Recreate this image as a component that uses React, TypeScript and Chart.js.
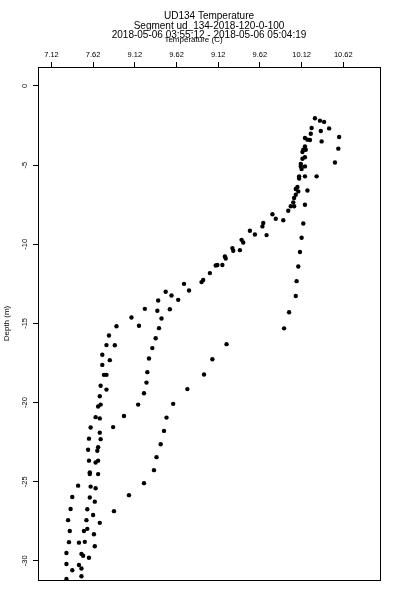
import React, { useEffect, useRef } from "react";
import { Chart, registerables } from "chart.js";

Chart.register(...registerables);

const FONT = '"Liberation Sans", Arial, Helvetica, sans-serif';

const titleLines = [
  "UD134 Temperature",
  "Segment ud_134-2018-120-0-100",
  "2018-05-06 03:55:12 - 2018-05-06 05:04:19",
];
const xAxisTitle = "Temperature (C)";
const yAxisTitle = "Depth (m)";

const xTickValues = [7.12, 7.62, 8.12, 8.62, 9.12, 9.62, 10.12, 10.62];
const xTickLabels = ["7.12", "7.62", "9.12", "9.62", "9.12", "9.62", "10.12", "10.62"];
const yTickValues = [0, -5, -10, -15, -20, -25, -30];

const temperature = [
  10.28, 10.34, 10.39, 10.45, 10.24, 10.35, 10.23, 10.57, 10.16, 10.19,
  10.22, 10.36, 10.16, 10.56, 10.14, 10.17, 10.13, 10.16, 10.13, 10.52,
  10.11, 10.16, 10.11, 10.12, 10.09, 10.16, 10.30, 10.09, 10.07, 10.05,
  10.08, 10.19, 10.05, 10.03, 10.02, 10.16, 9.99, 10.03, 9.96, 9.77,
  9.81, 9.90, 10.14, 10.12, 10.10, 10.08, 10.06, 10.05, 9.97, 9.91,
  9.66, 9.65, 9.70, 9.50, 9.56, 9.40, 9.42, 9.29, 9.30, 9.38,
  9.20, 9.21, 9.09, 9.11, 9.17, 9.02, 8.94, 8.92, 8.71, 8.77,
  8.64, 8.49, 8.56, 8.40, 8.24, 8.39, 8.54, 8.08, 8.44, 8.17,
  7.90, 8.41, 7.81, 8.37, 7.78, 7.88, 8.33, 7.73, 7.82, 8.29,
  7.73, 7.75, 7.78, 8.27, 8.26, 7.71, 7.78, 8.23, 7.70, 7.68,
  7.71, 8.16, 7.65, 7.70, 7.99, 7.59, 7.86, 7.70, 7.57, 7.71,
  7.56, 7.68, 7.67, 7.57, 7.65, 7.68, 7.58, 7.58, 7.68, 8.23,
  7.44, 7.59, 7.65, 8.05, 7.37, 7.58, 7.64, 7.35, 7.55, 7.87,
  7.62, 7.32, 7.54, 7.70, 7.34, 7.51, 7.55, 7.63, 7.33, 7.45,
  7.52, 7.64, 7.30, 7.48, 7.50, 7.57, 7.30, 7.45, 7.48, 7.37,
  7.48, 7.30, 9.22, 9.05, 8.95, 8.75, 8.58, 8.50, 8.47, 8.43,
  8.38, 8.35,
];

const depth = [
  -2.04, -2.19, -2.27, -2.68, -2.65, -2.84, -3.02, -3.22, -3.29, -3.39,
  -3.41, -3.50, -3.82, -3.96, -4.03, -4.03, -4.17, -4.50, -4.60, -4.83,
  -4.93, -5.08, -5.08, -5.25, -5.71, -5.71, -5.71, -5.84, -6.38, -6.51,
  -6.66, -6.60, -6.87, -7.08, -7.35, -7.50, -7.60, -7.60, -7.88, -8.10,
  -8.39, -8.48, -8.69, -9.59, -10.49, -11.40, -12.33, -13.27, -14.29, -15.31,
  -8.66, -8.87, -9.42, -9.15, -9.38, -9.72, -9.89, -10.24, -10.41, -10.37,
  -10.77, -10.90, -11.34, -11.31, -11.31, -11.82, -12.26, -12.39, -12.50, -12.92,
  -13.51, -13.00, -13.24, -13.55, -14.08, -14.20, -14.10, -14.63, -14.69, -15.15,
  -15.18, -15.30, -15.76, -15.94, -16.37, -16.38, -16.56, -16.98, -17.32, -17.22,
  -17.62, -18.25, -18.25, -18.08, -18.74, -18.94, -19.18, -19.41, -19.60, -20.25,
  -20.13, -20.13, -20.92, -21.00, -20.85, -21.58, -21.55, -21.90, -22.28, -22.31,
  -22.98, -22.82, -23.04, -23.67, -23.79, -23.67, -24.41, -24.51, -24.52, -25.09,
  -25.25, -25.31, -25.41, -25.85, -25.97, -26.00, -26.26, -26.72, -26.74, -26.86,
  -27.10, -27.43, -27.43, -27.60, -28.11, -28.11, -27.98, -28.32, -28.82, -28.85,
  -28.80, -29.08, -29.50, -29.56, -29.68, -29.80, -30.20, -30.26, -30.48, -30.59,
  -30.97, -31.14, -16.31, -17.26, -18.23, -19.15, -20.08, -20.95, -21.79, -22.63,
  -23.45, -24.27,
];

const framePlugin = {
  id: "frameAndTitles",
  afterDraw(chart: any) {
    const { ctx, chartArea } = chart;
    const { left, top, right, bottom } = chartArea;
    ctx.save();
    ctx.strokeStyle = "#000";
    ctx.lineWidth = 1;
    ctx.strokeRect(
      Math.round(left) + 0.5,
      Math.round(top) + 0.5,
      Math.round(right - left),
      Math.round(bottom - top)
    );
    ctx.fillStyle = "#000";
    ctx.textAlign = "center";
    ctx.textBaseline = "middle";
    const cx = (left + right) / 2;
    ctx.font = `10px ${FONT}`;
    titleLines.forEach((t, i) => ctx.fillText(t, cx, 16.5 + i * 9.5));
    ctx.font = `8px ${FONT}`;
    ctx.fillText(xAxisTitle, cx - 15.5, 39.5);
    ctx.restore();
  },
};

export default function App() {
  const canvasRef = useRef<HTMLCanvasElement | null>(null);

  useEffect(() => {
    if (!canvasRef.current) return;
    const tickFont = { family: FONT, size: 7.5 };
    const chart = new Chart(canvasRef.current, {
      type: "scatter",
      data: {
        datasets: [
          {
            data: temperature.map((t, i) => ({ x: t, y: depth[i] })),
            pointRadius: 2.2,
            pointHoverRadius: 2.2,
            backgroundColor: "#000",
            borderColor: "#000",
            borderWidth: 0,
            showLine: false,
          },
        ],
      },
      options: {
        animation: false,
        responsive: false,
        devicePixelRatio: 1,
        events: [],
        layout: { padding: { left: 0, top: 0, right: 20, bottom: 20 } },
        plugins: {
          legend: { display: false },
          tooltip: { enabled: false },
          title: { display: false },
        },
        scales: {
          x: {
            type: "linear",
            position: "top",
            min: 6.959,
            max: 11.06,
            afterBuildTicks: (s: any) => {
              s.ticks = xTickValues.map((v) => ({ value: v }));
            },
            afterFit: (s: any) => {
              s.height = 67;
            },
            ticks: {
              autoSkip: false,
              maxRotation: 0,
              minRotation: 0,
              padding: 3,
              color: "#000",
              font: tickFont,
              callback: (_v: any, i: number) => xTickLabels[i],
            },
            grid: {
              drawOnChartArea: false,
              drawTicks: true,
              tickLength: 5,
              color: "#000",
              lineWidth: 1,
            },
            border: { display: false },
          },
          y: {
            type: "linear",
            position: "left",
            min: -31.21,
            max: 1.2,
            afterBuildTicks: (s: any) => {
              s.ticks = yTickValues.map((v) => ({ value: v }));
            },
            afterFit: (s: any) => {
              s.width = 38;
            },
            ticks: {
              autoSkip: false,
              minRotation: 90,
              maxRotation: 90,
              crossAlign: "center",
              padding: 3,
              color: "#000",
              font: tickFont,
              callback: (v: any) => String(v),
            },
            grid: {
              drawOnChartArea: false,
              drawTicks: true,
              tickLength: 5,
              color: "#000",
              lineWidth: 1,
            },
            border: { display: false },
            title: {
              display: true,
              text: yAxisTitle,
              color: "#000",
              font: { family: FONT, size: 8 },
              padding: { top: 2, bottom: 0 },
            },
          },
        },
      },
      plugins: [framePlugin],
    } as any);
    return () => chart.destroy();
  }, []);

  return (
    <div style={{ position: "absolute", left: 0, top: 0, width: 400, height: 600, background: "#fff" }}>
      <canvas ref={canvasRef} width={400} height={600} style={{ display: "block" }} />
    </div>
  );
}
